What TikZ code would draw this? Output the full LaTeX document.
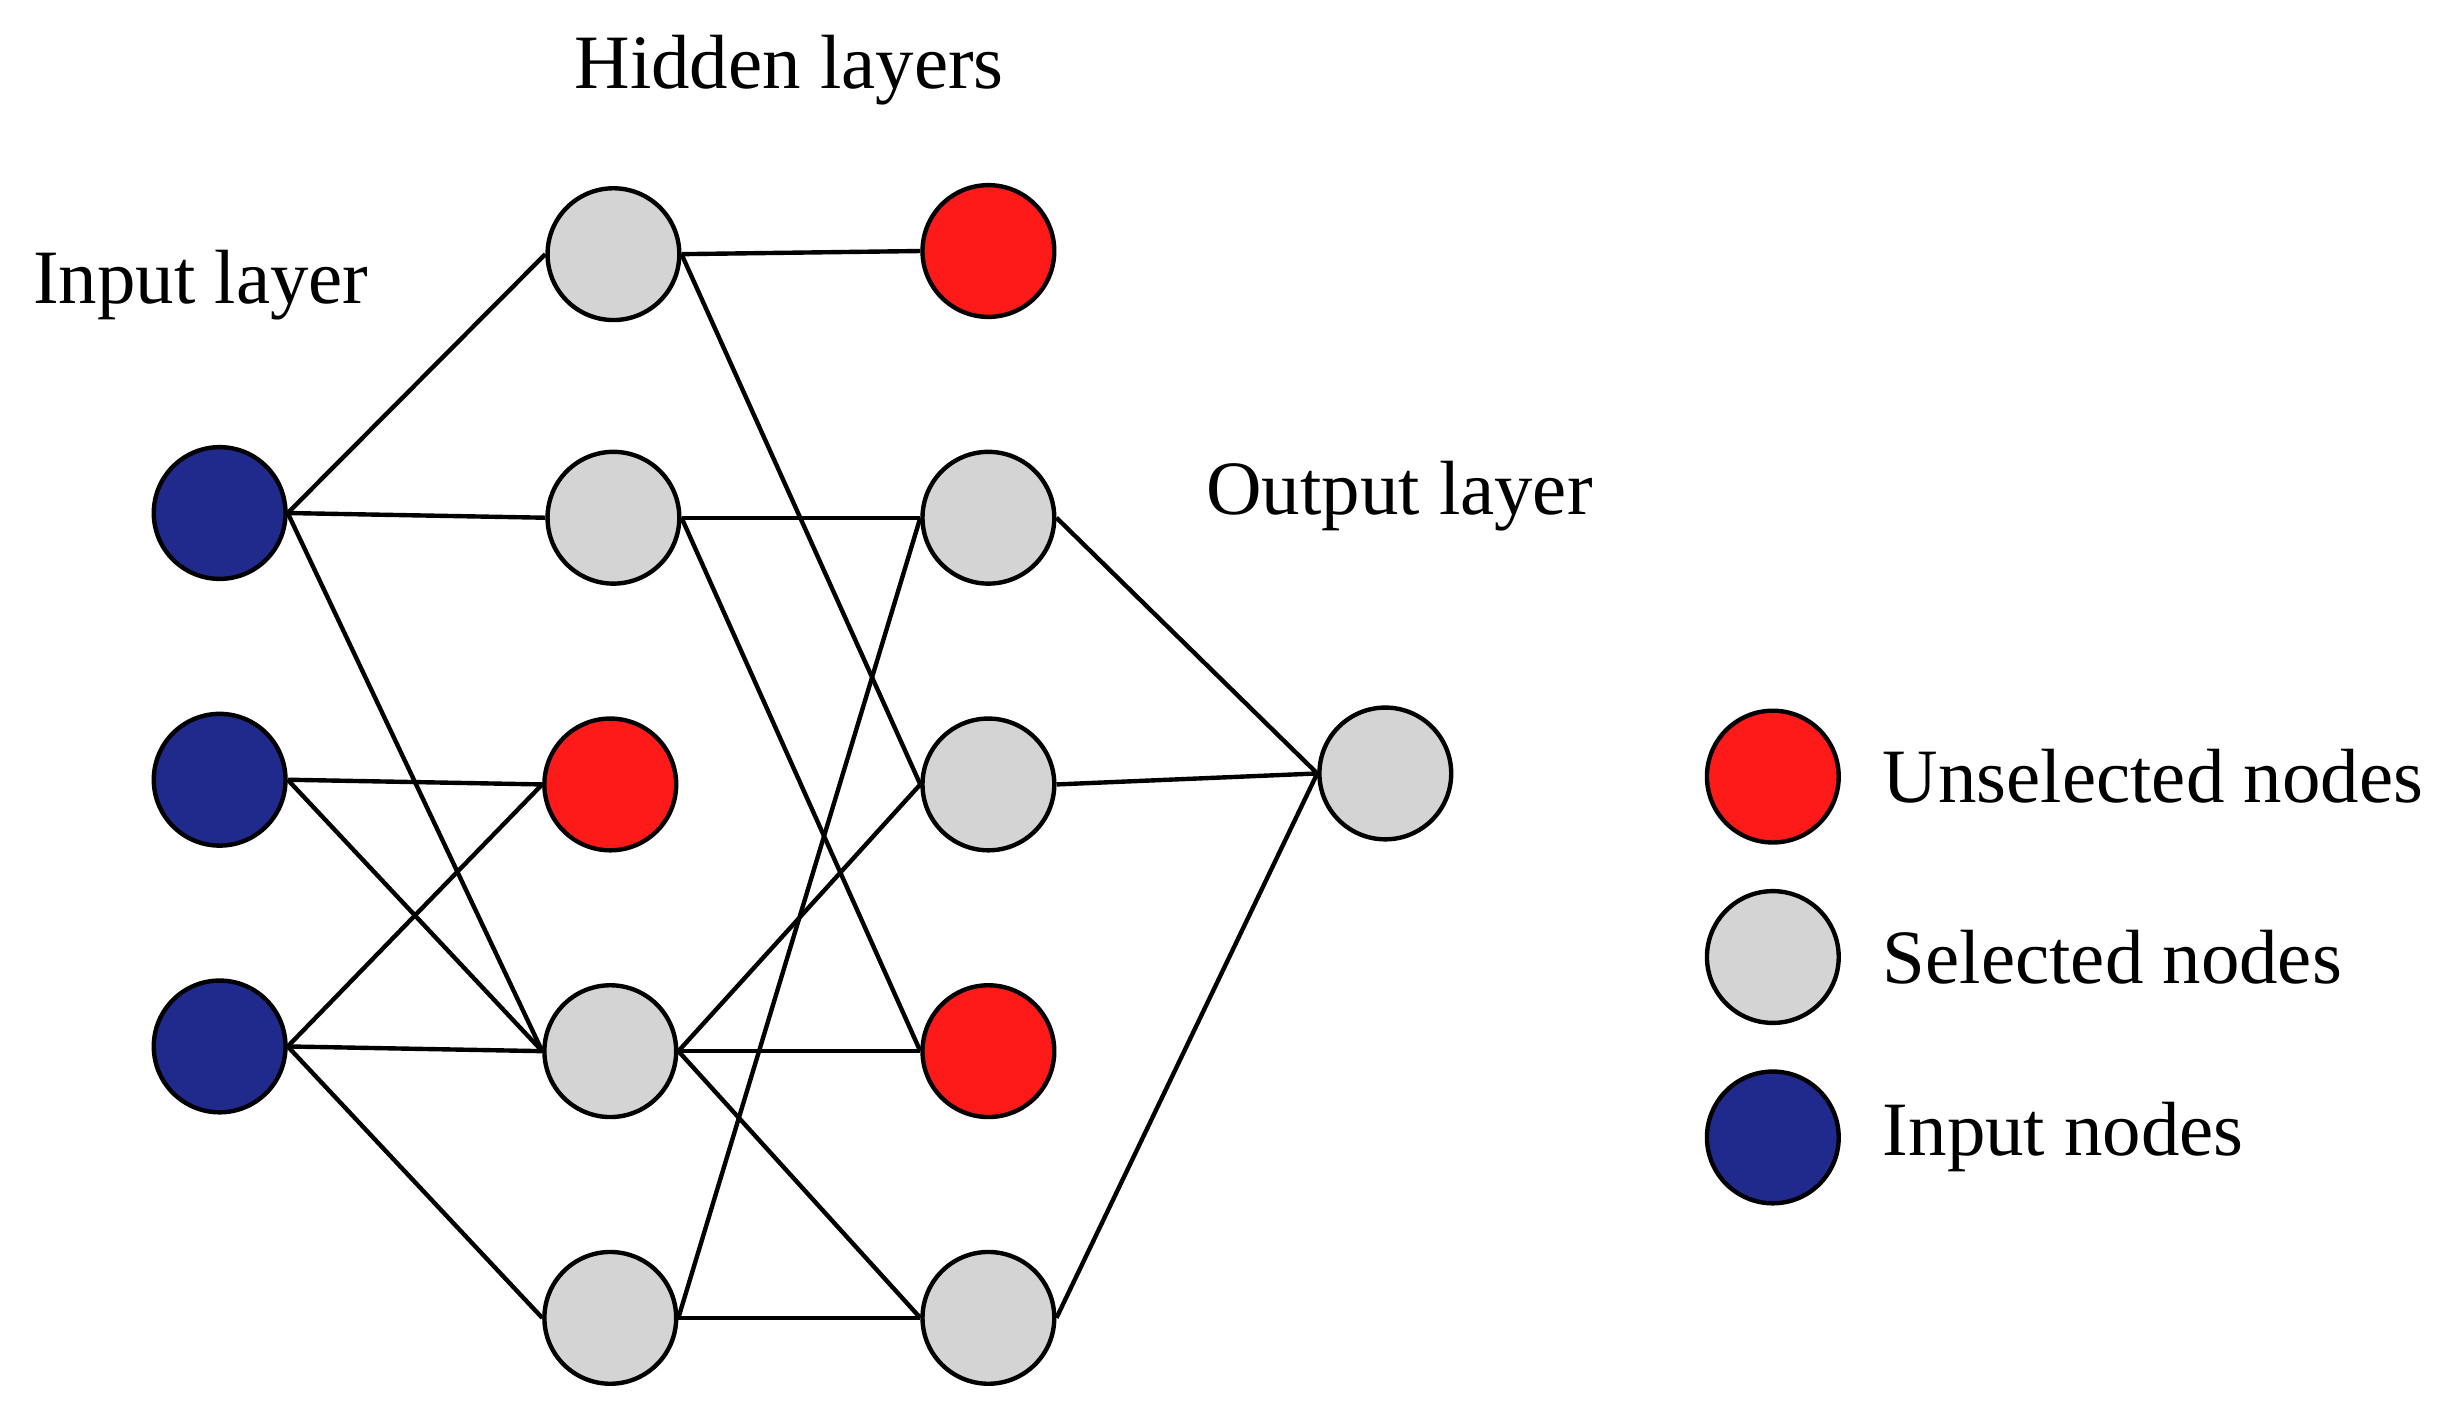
\documentclass[tikz,border=0pt]{standalone}
\usepackage{fontspec}
\setmainfont{Liberation Serif}
\definecolor{inblue}{HTML}{1F2A8C}
\definecolor{unred}{HTML}{FF1A1A}
\definecolor{selgray}{HTML}{D4D4D4}
\begin{document}
\begin{tikzpicture}[x=1pt,y=-1pt,
  nd/.style={circle,draw=black,line width=2.8pt,minimum size=84pt,inner sep=0pt},
  blu/.style={nd,fill=inblue},
  red/.style={nd,fill=unred},
  gry/.style={nd,fill=selgray},
  lab/.style={font=\fontsize{49}{56}\selectfont,inner sep=0pt},
  ed/.style={line width=2.8pt}]
\useasboundingbox (0,0) rectangle (1568,909);
\node[blu] (i1) at (140,327) {};
\node[blu] (i2) at (140,497) {};
\node[blu] (i3) at (140,667) {};
\node[gry] (a1) at (391,162) {};
\node[gry] (a2) at (391,330) {};
\node[red] (a3) at (389,500) {};
\node[gry] (a4) at (389,670) {};
\node[gry] (a5) at (389,840) {};
\node[red] (b1) at (630,160) {};
\node[gry] (b2) at (630,330) {};
\node[gry] (b3) at (630,500) {};
\node[red] (b4) at (630,670) {};
\node[gry] (b5) at (630,840) {};
\node[gry] (o) at (883,493) {};
\node[red] (l1) at (1130,495) {};
\node[gry] (l2) at (1130,610) {};
\node[blu] (l3) at (1130,725) {};
\node[lab,anchor=west] (t1) at (1200,495) {Unselected nodes};
\node[lab,anchor=west] (t2) at (1200,610) {Selected nodes};
\node[lab,anchor=west] (t3) at (1200,725) {Input nodes};
\node[lab] (hl) at (503,45) {Hidden layers};
\node[lab] (il) at (128,182) {Input layer};
\node[lab] (ol) at (892,316) {Output layer};
\foreach \s/\t in {i1/a1,i1/a2,i1/a4,i2/a3,i2/a4,i3/a3,i3/a4,i3/a5,
  a1/b1,a1/b3,a2/b2,a2/b4,a4/b3,a4/b4,a4/b5,a5/b2,a5/b5,b2/o,b3/o,b5/o}
  \draw[ed] (\s.east) -- (\t.west);
\end{tikzpicture}
\end{document}
